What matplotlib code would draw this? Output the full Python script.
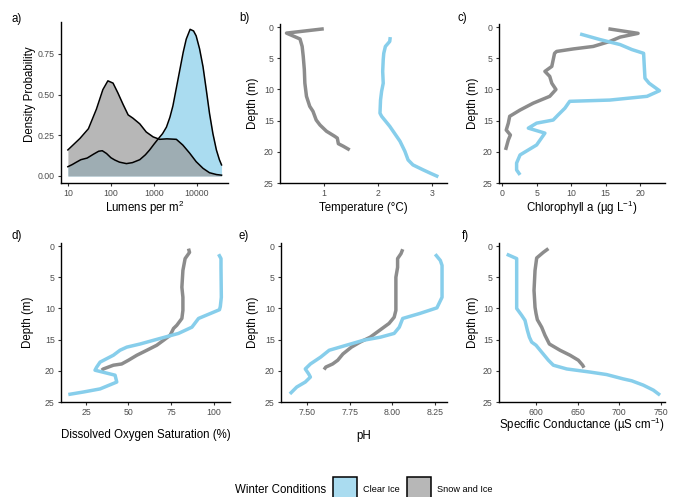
import matplotlib
matplotlib.use('Agg')
import matplotlib.pyplot as plt
from matplotlib.patches import Rectangle

plt.rcParams['font.family'] = ['Liberation Sans', 'DejaVu Sans']
plt.rcParams['mathtext.fontset'] = 'custom'
plt.rcParams['mathtext.rm'] = 'Liberation Sans'
plt.rcParams['mathtext.it'] = 'Liberation Sans:italic'

CLEAR = '#87CEEB'
SNOW_LINE = '#8C8C8C'
SNOW_FILL = '#999999'

# a) light density (lux, density)
clear_lux = [10, 12.6, 15.8, 20, 28, 40, 52, 63, 79, 100, 123, 158, 229, 316, 468, 631, 794,
             1000, 1230, 1585, 1950, 2344, 2754, 3311, 3981, 4786, 5623, 6918, 8318, 9550,
             11480, 13800, 16600, 19500, 23400, 28200, 33100, 37150]
clear_dens = [0.057, 0.07, 0.085, 0.10, 0.11, 0.135, 0.152, 0.155, 0.138, 0.112, 0.098, 0.085,
              0.076, 0.082, 0.10, 0.13, 0.16, 0.195, 0.225, 0.26, 0.30, 0.36, 0.43, 0.54, 0.65,
              0.76, 0.84, 0.90, 0.89, 0.86, 0.78, 0.67, 0.52, 0.385, 0.26, 0.16, 0.10, 0.068]
snow_lux = [10, 19, 30, 46, 65, 85, 112, 145, 191, 251, 324, 468, 661, 955, 1349, 1995, 3311,
            4677, 6761, 9550, 13800, 19500, 28200, 37150]
snow_dens = [0.16, 0.23, 0.29, 0.41, 0.53, 0.584, 0.57, 0.51, 0.44, 0.375, 0.355, 0.32, 0.27,
             0.24, 0.225, 0.228, 0.225, 0.19, 0.14, 0.088, 0.047, 0.02, 0.009, 0.005]

# b) temperature
temp_snow_depth = [0.27, 0.96, 1.9, 3.1, 4.7, 6.8, 9.0, 11.1, 12.7, 13.5, 14.9, 15.7, 16.7,
                   17.5, 17.8, 18.7, 19.1, 19.7]
temp_snow = [1.0, 0.31, 0.56, 0.60, 0.62, 0.64, 0.65, 0.68, 0.74, 0.80, 0.86, 0.93, 1.05,
             1.20, 1.25, 1.27, 1.36, 1.48]
temp_clear_depth = [1.6, 2.3, 3.1, 4.2, 5.2, 7.1, 9.0, 10.3, 11.7, 13.8, 14.3, 15.9, 18.3,
                    19.9, 21.3, 22.1, 22.9, 23.5, 24.0]
temp_clear = [2.23, 2.22, 2.14, 2.11, 2.10, 2.09, 2.10, 2.07, 2.05, 2.04, 2.07, 2.22, 2.41,
              2.50, 2.56, 2.65, 2.84, 2.99, 3.12]

# c) chlorophyll a
chl_snow_depth = [0.27, 1.0, 1.6, 2.3, 3.1, 3.5, 3.9, 4.2, 6.3, 7.1, 7.9, 9.0, 10.0, 11.1,
                  12.2, 13.3, 14.3, 15.4, 16.5, 17.3, 18.1, 19.7]
chl_snow = [15.4, 19.7, 17.1, 15.6, 13.2, 10.3, 7.9, 7.6, 7.2, 6.2, 6.9, 7.2, 7.8, 6.9,
            4.5, 2.6, 1.1, 0.9, 0.6, 1.2, 0.9, 0.5]
chl_clear_depth = [1.1, 2.0, 2.8, 3.6, 4.2, 6.3, 8.2, 9.0, 10.2, 11.1, 11.7, 11.9, 12.2, 13.0,
                   14.1, 14.9, 15.4, 16.2, 17.0, 18.9, 19.7, 20.5, 21.8, 22.9, 23.7]
chl_clear = [11.3, 14.2, 17.1, 18.8, 20.5, 20.6, 20.7, 21.3, 22.8, 21.0, 15.6, 9.8, 9.6, 9.1,
             8.1, 7.4, 5.0, 3.8, 6.2, 5.0, 3.8, 2.6, 2.1, 2.1, 2.6]

# d) dissolved oxygen saturation
do_snow_depth = [0.4, 1.0, 2.0, 3.9, 6.6, 8.2, 10.3, 11.6, 12.7, 13.2, 14.3, 15.1, 15.9,
                 16.7, 17.5, 18.3, 18.9, 19.1, 19.7, 19.9]
do_snow = [85.3, 85.9, 83.3, 82.0, 81.4, 82.0, 82.0, 81.4, 78.4, 76.5, 74.5, 70.6, 66.6,
           60.8, 54.9, 50.0, 46.0, 41.1, 35.2, 34.2]
do_clear_depth = [1.3, 2.0, 3.4, 8.2, 9.7, 10.2, 11.6, 13.0, 14.0, 15.1, 15.7, 16.2, 16.7,
                  17.5, 18.6, 19.4, 19.9, 20.7, 21.8, 22.9, 23.4, 23.8]
do_clear = [103.0, 104.4, 104.4, 104.6, 104.0, 103.5, 91.2, 87.3, 79.4, 64.7, 56.8, 49.0,
            45.0, 41.1, 33.3, 31.3, 30.3, 42.1, 43.1, 33.3, 23.4, 14.6]

# e) pH
ph_snow_depth = [0.5, 1.2, 2.0, 3.4, 5.0, 7.1, 8.7, 10.3, 11.4, 12.4, 13.0, 13.8, 14.6, 15.4,
                 16.2, 17.3, 18.3, 18.9, 19.4, 19.8]
ph_snow = [8.06, 8.05, 8.03, 8.03, 8.02, 8.02, 8.02, 8.02, 8.01, 7.98, 7.95, 7.91, 7.87, 7.81,
           7.76, 7.71, 7.68, 7.65, 7.61, 7.60]
ph_clear_depth = [1.3, 2.3, 3.1, 8.2, 9.9, 10.8, 11.6, 13.0, 14.0, 14.6, 15.1, 15.9, 16.7,
                  17.8, 18.9, 19.7, 20.5, 21.0, 21.8, 22.6, 23.7]
ph_clear = [8.25, 8.28, 8.29, 8.29, 8.26, 8.16, 8.06, 8.04, 8.01, 7.93, 7.83, 7.73, 7.63, 7.58,
            7.52, 7.49, 7.51, 7.52, 7.49, 7.44, 7.40]

# f) specific conductance
spc_snow_depth = [0.4, 1.0, 1.9, 3.9, 7.1, 9.8, 10.8, 11.8, 13.0, 14.3, 15.7, 16.7, 17.5,
                  18.3, 19.1, 19.5]
spc_snow = [614.9, 608.8, 600.8, 598.8, 597.6, 598.8, 600.0, 601.6, 606.8, 610.8, 616.1, 628.9,
            641.0, 651.0, 656.2, 657.8]
spc_clear_depth = [1.3, 2.0, 2.8, 7.1, 10.0, 11.1, 11.9, 13.5, 14.6, 15.4, 15.9, 17.0, 18.3,
                   19.1, 19.7, 20.2, 20.6, 21.3, 21.6, 22.3, 23.1, 23.9]
spc_clear = [564.7, 576.7, 576.7, 576.7, 576.7, 582.7, 586.7, 589.6, 592.0, 594.8, 600.0, 606.8,
             614.9, 620.9, 637.0, 665.1, 685.1, 705.2, 715.3, 729.3, 741.4, 749.4]

W, H = 676, 497
fig = plt.figure(figsize=(W / 100, H / 100), dpi=100)


def add_axes(x0, x1, y0, y1):
    return fig.add_axes([x0 / W, 1 - y1 / H, (x1 - x0) / W, (y1 - y0) / H])


def style(ax):
    for s in ['top', 'right']:
        ax.spines[s].set_visible(False)
    for s in ['left', 'bottom']:
        ax.spines[s].set_linewidth(1.0)
        ax.spines[s].set_color('black')
    ax.tick_params(length=2.5, width=0.8, color='#333333', labelcolor='#4D4D4D',
                   labelsize=6.3, pad=2)
    ax.minorticks_off()


def profile(ax, snow_x, snow_d, clear_x, clear_d, xlim, xticks, xticklabels):
    ax.plot(snow_x, snow_d, color=SNOW_LINE, lw=2.5, solid_capstyle='butt')
    ax.plot(clear_x, clear_d, color=CLEAR, lw=2.5, solid_capstyle='butt')
    ax.set_xlim(*xlim)
    ax.set_ylim(25, -0.5)
    ax.set_yticks([0, 5, 10, 15, 20, 25])
    ax.set_xticks(xticks)
    ax.set_xticklabels(xticklabels)
    ax.set_ylabel('Depth (m)', fontsize=8.3)
    style(ax)


# a)
ax = add_axes(61, 228, 22, 183)
ax.fill_between(clear_lux, clear_dens, color=CLEAR, alpha=0.7, lw=0)
ax.plot(clear_lux, clear_dens, color='black', lw=1.1)
ax.fill_between(snow_lux, snow_dens, color=SNOW_FILL, alpha=0.7, lw=0)
ax.plot(snow_lux, snow_dens, color='black', lw=1.1)
ax.set_xscale('log')
ax.set_xlim(10 ** 0.84, 10 ** 4.72)
ax.set_ylim(-0.043, 0.945)
ax.set_xticks([10, 100, 1000, 10000])
ax.set_xticklabels(['10', '100', '1000', '10000'])
ax.set_yticks([0, 0.25, 0.5, 0.75])
ax.set_yticklabels(['0.00', '0.25', '0.50', '0.75'])
ax.set_ylabel('Density Probability', fontsize=8.3)
ax.set_xlabel('Lumens per m$^2$', fontsize=8.3)
style(ax)
ax.xaxis.set_label_coords(0.5, -0.157)
ax.yaxis.set_label_coords(-0.186, 0.55)
ax.xaxis.label.set_va('center')
ax.yaxis.label.set_va('center')

# b)
ax = add_axes(280, 447, 24, 183)
profile(ax, temp_snow, temp_snow_depth, temp_clear, temp_clear_depth,
        (0.19, 3.28), [1, 2, 3], ['1', '2', '3'])
ax.set_xlabel('Temperature (°C)', fontsize=8.3)
ax.xaxis.set_label_coords(0.5, -0.157)
ax.yaxis.set_label_coords(-0.162, 0.5)

# c)
ax = add_axes(499, 665, 24, 183)
profile(ax, chl_snow, chl_snow_depth, chl_clear, chl_clear_depth,
        (-0.45, 23.6), [0, 5, 10, 15, 20], ['0', '5', '10', '15', '20'])
ax.set_xlabel('Chlorophyll a (µg L$^{-1}$)', fontsize=8.3)
ax.xaxis.set_label_coords(0.5, -0.157)
ax.yaxis.set_label_coords(-0.157, 0.5)

# d)
ax = add_axes(61, 230, 243, 402)
profile(ax, do_snow, do_snow_depth, do_clear, do_clear_depth,
        (10.3, 109.7), [25, 50, 75, 100], ['25', '50', '75', '100'])
ax.set_xlabel('Dissolved Oxygen Saturation (%)', fontsize=8.3)
ax.xaxis.set_label_coords(0.5, -0.208)
ax.yaxis.set_label_coords(-0.195, 0.5)

# e)
ax = add_axes(281, 447, 243, 402)
profile(ax, ph_snow, ph_snow_depth, ph_clear, ph_clear_depth,
        (7.348, 8.319), [7.5, 7.75, 8.0, 8.25], ['7.50', '7.75', '8.00', '8.25'])
ax.set_xlabel('pH', fontsize=8.3)
ax.xaxis.set_label_coords(0.5, -0.214)
ax.yaxis.set_label_coords(-0.168, 0.5)

# f)
ax = add_axes(499, 665, 243, 402)
profile(ax, spc_snow, spc_snow_depth, spc_clear, spc_clear_depth,
        (555.4, 755.4), [600, 650, 700, 750], ['600', '650', '700', '750'])
ax.set_xlabel('Specific Conductance (µS cm$^{-1}$)', fontsize=8.3)
ax.xaxis.set_label_coords(0.5, -0.145)
ax.yaxis.set_label_coords(-0.157, 0.5)

for a in fig.axes:
    a.xaxis.label.set_va('center')
    a.yaxis.label.set_va('center')

# panel letters
for lab, x, y in [('a)', 17, 19), ('b)', 244, 18), ('c)', 462, 18),
                  ('d)', 17, 236), ('e)', 244, 236), ('f)', 465, 236)]:
    fig.text(x / W, 1 - y / H, lab, fontsize=8.3, ha='center', va='center')

# legend
fig.text(235 / W, 1 - 490 / H, 'Winter Conditions', fontsize=8.3, ha='left', va='center')
for x0, col, lab in [(333, CLEAR, 'Clear Ice'), (407, SNOW_FILL, 'Snow and Ice')]:
    fig.patches.append(Rectangle((x0 / W, 1 - 501 / H), 24 / W, 24 / H, transform=fig.transFigure,
                                 facecolor=col, alpha=0.7, edgecolor='none', clip_on=False))
    fig.patches.append(Rectangle((x0 / W, 1 - 501 / H), 24 / W, 24 / H, transform=fig.transFigure,
                                 facecolor='none', edgecolor='black', lw=1.1, clip_on=False))
    fig.text((x0 + 30) / W, 1 - 490 / H, lab, fontsize=6.6, ha='left', va='center')

fig.savefig('out.png', dpi=100)
